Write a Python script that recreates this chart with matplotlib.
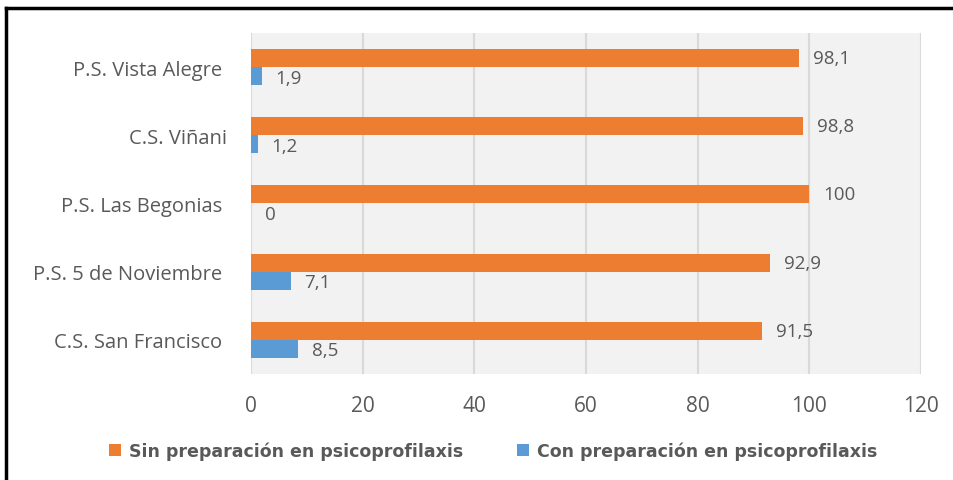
import matplotlib.pyplot as plt
import numpy as np
from matplotlib.lines import Line2D

# data (top to bottom)
centros = ["P.S. Vista Alegre ", "C.S. Viñani", "P.S. Las Begonias ",
           "P.S. 5 de Noviembre ", "C.S. San Francisco "]
sin_prep = [98.1, 98.8, 100, 92.9, 91.5]
con_prep = [1.9, 1.2, 0, 7.1, 8.5]
sin_labels = ["98,1", "98,8", "100", "92,9", "91,5"]
con_labels = ["1,9", "1,2", "0", "7,1", "8,5"]
xticks = [0, 20, 40, 60, 80, 100, 120]

naranja = "#ED7D31"
azul = "#5B9BD5"
gris_txt = "#595959"

plt.rcParams['font.family'] = ['Open Sans', 'DejaVu Sans']

fig = plt.figure(figsize=(9.54, 4.81), dpi=100)
ax = fig.add_axes([0.2631, 0.2204, 0.7023, 0.7089])
ax.set_facecolor("#F2F2F2")

# first category on top
y = np.arange(len(centros))[::-1]
h = 0.265
b1 = ax.barh(y + h / 2, sin_prep, height=h, color=naranja,
             label="Sin preparación en psicoprofilaxis", zorder=3)
b2 = ax.barh(y - h / 2, con_prep, height=h, color=azul,
             label="Con preparación en psicoprofilaxis", zorder=3)

for bar, txt in zip(b1, sin_labels):
    ax.annotate(txt, (bar.get_width(), bar.get_y() + bar.get_height() / 2),
                xytext=(10, 0), textcoords="offset points",
                va="center", ha="left", fontsize=13.5, color=gris_txt)
for bar, txt in zip(b2, con_labels):
    ax.annotate(txt, (bar.get_width(), bar.get_y() + bar.get_height() / 2),
                xytext=(10, -1), textcoords="offset points",
                va="center", ha="left", fontsize=13.5, color=gris_txt)

ax.set_xlim(0, 120)
ax.set_ylim(-0.5, len(centros) - 0.5)
ax.set_xticks(xticks)
ax.set_yticks(y)
ax.set_yticklabels(centros)
ax.tick_params(axis="both", length=0, colors=gris_txt)
ax.tick_params(axis="y", pad=17, labelsize=14.5)
ax.tick_params(axis="x", pad=15, labelsize=15)
ax.grid(axis="x", color="#D9D9D9", linewidth=1.5, zorder=0)
for s in ax.spines.values():
    s.set_visible(False)

ax.legend(loc="center", bbox_to_anchor=(0.517, 0.06),
          bbox_transform=fig.transFigure, ncol=2, frameon=False,
          handlelength=0.69, handleheight=0.69, handletextpad=0.46,
          columnspacing=3.1,
          prop={"family": "DejaVu Sans", "size": 12.5, "weight": "bold"},
          labelcolor=gris_txt)

# black frame at top and left of the image
fig.add_artist(Line2D([0.0068, 1.0], [0.981, 0.981], color="black",
                      linewidth=2.5, transform=fig.transFigure))
fig.add_artist(Line2D([0.0068, 0.0068], [0.0, 0.981], color="black",
                      linewidth=2.5, transform=fig.transFigure))

fig.savefig("out.png", dpi=100)
